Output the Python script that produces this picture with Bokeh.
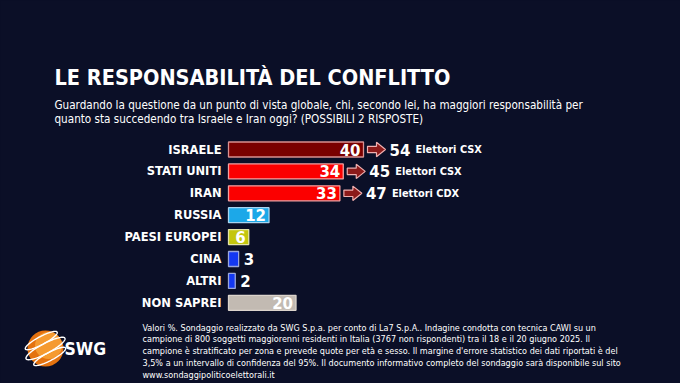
import numpy as np
from bokeh.plotting import figure
from bokeh.models import Range1d, ColumnDataSource
from bokeh.core.properties import value
from bokeh.embed import file_html
from bokeh.resources import INLINE

# ---------------- data ----------------
categories = ["ISRAELE", "STATI UNITI", "IRAN", "RUSSIA", "PAESI EUROPEI", "CINA", "ALTRI", "NON SAPREI"]
values = [40, 34, 33, 12, 6, 3, 2, 20]
bar_colors = ["#7a0000", "#fb0000", "#fb0000", "#1ca8e8", "#c4c60e", "#1438f2", "#1438f2", "#c2bab2"]
bar_borders = ["#d99090", "#f5a0a0", "#f5a0a0", "#a8d4f0", "#e4e4a8", "#9aa6dc", "#9aa6dc", "#dcd4cc"]
electorate_values = [54, 45, 47]
electorate_labels = ["Elettori CSX", "Elettori CSX", "Elettori CDX"]

title = "LE RESPONSABILITÀ DEL CONFLITTO"
subtitle_lines = [
    "Guardando la questione da un punto di vista globale, chi, secondo lei, ha maggiori responsabilità per",
    "quanto sta succedendo tra Israele e Iran oggi? (POSSIBILI 2 RISPOSTE)",
]
footer_lines = [
    "Valori %. Sondaggio realizzato da SWG S.p.a. per conto di La7 S.p.A.. Indagine condotta con tecnica CAWI su un",
    "campione di 800 soggetti maggiorenni residenti in Italia (3767 non rispondenti) tra il 18 e il 20 giugno 2025. Il",
    "campione è stratificato per zona e prevede quote per età e sesso. Il margine d'errore statistico dei dati riportati è del",
    "3,5% a un intervallo di confidenza del 95%. Il documento informativo completo del sondaggio sarà disponibile sul sito",
    "www.sondaggipoliticoelettorali.it",
]

# ---------------- layout ----------------
BG = "#0b0f27"
W, H = 680, 383
RX0, K = 228.0, 3.375      # page x of value 0, pixels per percentage point
RY0, ROW = 149.0, 21.9     # page y of first row, pixels per row

def X(rx):
    return (rx - RX0) / K

def Y(ry):
    return (ry - RY0) / ROW

COND = "DejaVu Sans Condensed, Liberation Sans, sans-serif"
BOLD = "DejaVu Sans"

p = figure(width=W, height=H,
           x_range=Range1d(X(0), X(W)),
           y_range=Range1d(Y(H), Y(0)),
           x_axis_location=None, y_axis_location=None,
           output_backend="svg", toolbar_location=None,
           min_border=0, background_fill_color=BG, border_fill_color=BG,
           outline_line_color=None)
p.grid.visible = False

idx = list(range(len(categories)))
src = ColumnDataSource(dict(idx=idx, val=values, cat=categories,
                            color=bar_colors, border=bar_borders))

# bars
p.hbar(y="idx", left=0, right="val", height=15 / ROW, source=src,
       fill_color="color", line_color="border", line_width=1.3)

# category labels
p.text(x=X(221), y="idx", text="cat", source=src, text_align="right",
       text_baseline="middle", text_color="white",
       text_font=value(BOLD), text_font_style="bold", text_font_size="11.5px")

# value labels
inside = [v >= 5 for v in values]
vx = [v - 3 / K if ins else v + 5 / K for v, ins in zip(values, inside)]
va = ["right" if ins else "left" for ins in inside]
vsrc = ColumnDataSource(dict(x=vx, y=idx, t=[str(v) for v in values], a=va))
p.text(x="x", y="y", text="t", text_align="a", source=vsrc,
       text_baseline="middle", text_color="white",
       text_font=value(BOLD), text_font_style="bold", text_font_size="15px")

# arrows + electorate notes
shape = np.array([(0, -3.2), (9, -3.2), (9, -7.2), (18, 0), (9, 7.2), (9, 3.2), (0, 3.2)])
axs, ays = [], []
nx, ny, nt, lx, lt = [], [], [], [], []
for i, (ev, el) in enumerate(zip(electorate_values, electorate_labels)):
    x0 = values[i] + 4 / K
    axs.append(list(x0 + shape[:, 0] / K))
    ays.append(list(i + shape[:, 1] / ROW))
    nx.append(x0 + 22 / K)
    lx.append(x0 + 48 / K)
    ny.append(i)
    nt.append(str(ev))
    lt.append(el)
p.patches(axs, ays, fill_color="#8c1a1a", line_color="#f0b0b0", line_width=1.2)
p.text(x=nx, y=ny, text=nt, text_baseline="middle", text_color="white",
       text_font=value(BOLD), text_font_style="bold", text_font_size="15px")
p.text(x=lx, y=ny, text=lt, text_baseline="middle", text_color="white",
       text_font=value(BOLD), text_font_style="bold", text_font_size="9.8px")

# title & subtitle
p.text(x=[X(54)], y=[Y(77)], text=[title], text_baseline="middle", text_color="white",
       text_font=value(COND), text_font_style="bold", text_font_size="21.5px")
p.text(x=[X(54)] * 2, y=[Y(104), Y(118)], text=subtitle_lines, text_baseline="middle",
       text_color="white", text_font=value(COND), text_font_size="11.6px")

# footer
fy = [Y(327 + 11.8 * k) for k in range(len(footer_lines))]
p.text(x=[X(142)] * len(footer_lines), y=fy, text=footer_lines, text_baseline="middle",
       text_color="white", text_font=value(COND), text_font_size="9px")

# SWG logo
cx, cy, r = 45, 348, 18
p.ellipse(x=[X(cx)], y=[Y(cy)], width=[2 * r / K], height=[2 * r / ROW],
          fill_color="#e4720f", line_color=None)
p.ellipse(x=[X(cx + 3)], y=[Y(cy - 3)], width=[1.5 * r / K], height=[1.5 * r / ROW],
          fill_color="#f59a30", line_color=None)
t = np.linspace(0, 2 * np.pi, 80)
ang = np.deg2rad(-28)
rxs, rys = [], []
for off, a, b in [(-9, 18, 4), (0, 22, 5), (9, 18, 4)]:
    ex = a * np.cos(t)
    ey = b * np.sin(t) + off
    px = cx + ex * np.cos(ang) - ey * np.sin(ang)
    py = cy + ex * np.sin(ang) + ey * np.cos(ang)
    rxs.append(list(X(px)))
    rys.append(list(Y(py)))
p.multi_line(rxs, rys, line_color="white", line_width=1.4)
p.text(x=[X(64)], y=[Y(348)], text=["SWG"], text_baseline="middle", text_color="white",
       text_font=value(COND), text_font_style="bold", text_font_size="17.5px")

html = file_html(p, INLINE)
html = html.replace("</head>",
                    "<style>html,body{background:%s;margin:0;padding:0;overflow:hidden;}</style></head>" % BG, 1)
open("out.html", "w").write(html)
